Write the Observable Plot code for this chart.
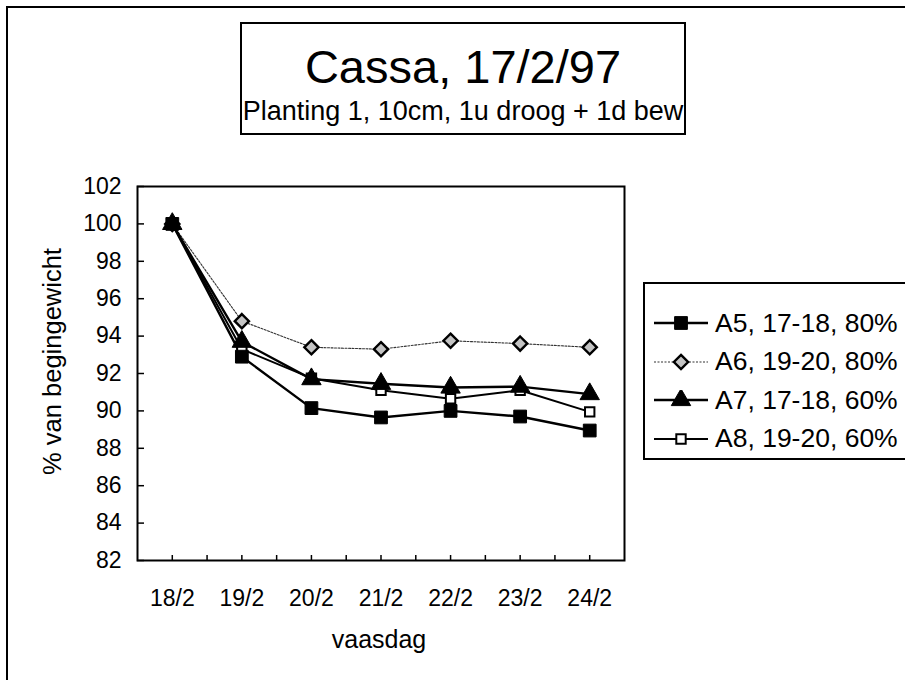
<!DOCTYPE html>
<html>
<head>
<meta charset="utf-8">
<script src="https://cdn.jsdelivr.net/npm/d3@7"></script>
<script src="https://cdn.jsdelivr.net/npm/@observablehq/plot@0.6"></script>
<style>
  html, body { margin: 0; padding: 0; background: #fff; }
  #wrap { position: relative; width: 905px; height: 680px; overflow: hidden; font-family: "Liberation Sans", Arial, sans-serif; color: #000; }
  #chart { position: absolute; left: 0; top: 0; }
  .frameL { position: absolute; left: 6px; top: 6px; width: 2px; height: 680px; background: #000; }
  .frameT { position: absolute; left: 6px; top: 6px; width: 905px; height: 2px; background: #000; }
  #titlebox { position: absolute; left: 240px; top: 22px; width: 442px; height: 109px; border: 2px solid #000; background: #fff; }
  #title { position: absolute; left: 0; width: 100%; top: 13px; text-align: center; font-size: 47px; line-height: 60px; }
  #subtitle { position: absolute; left: 0; width: 100%; top: 71px; text-align: center; font-size: 27px; line-height: 32px; white-space: nowrap; }
  #legend { position: absolute; left: 643px; top: 282px; width: 300px; height: 174px; border: 2px solid #000; background: #fff; }
  .row { position: absolute; left: 8px; height: 30px; display: flex; align-items: center; white-space: nowrap; font-size: 26.5px; }
  .row svg { margin-right: 6px; }
</style>
</head>
<body>
<div id="wrap">
  <div id="chart"></div>
  <div class="frameL"></div>
  <div class="frameT"></div>
  <div id="titlebox">
    <div id="title"></div>
    <div id="subtitle"></div>
  </div>
  <div id="legend"></div>
</div>
<script>
const titleText = "Cassa, 17/2/97";
const subtitleText = "Planting 1, 10cm, 1u droog + 1d bew";
const xLabel = "vaasdag";
const yLabel = "% van begingewicht";
const days = ["18/2", "19/2", "20/2", "21/2", "22/2", "23/2", "24/2"];
const yTicks = [82, 84, 86, 88, 90, 92, 94, 96, 98, 100, 102];
const seriesNames = ["A5, 17-18, 80%", "A6, 19-20, 80%", "A7, 17-18, 60%", "A8, 19-20, 60%"];
const a5 = [100, 92.9, 90.15, 89.65, 90.0, 89.7, 88.95];
const a6 = [100, 94.8, 93.4, 93.3, 93.75, 93.6, 93.4];
const a7 = [100, 93.7, 91.7, 91.45, 91.25, 91.3, 90.9];
const a8 = [100, 93.3, 91.75, 91.1, 90.65, 91.1, 89.95];

const seriesValues = [a5, a6, a7, a8];
const styles = [
  {symbol: "square", r: 7.2, fill: "#000", stroke: "#000", sw: 1, lineStroke: "#000", lineWidth: 2.4, dash: null},
  {symbol: "diamond2", r: 6.4, fill: "#c4c4c4", stroke: "#000", sw: 2.4, lineStroke: "#333", lineWidth: 1.1, dash: "2,1.5"},
  {symbol: "triangle", r: 7.2, fill: "#000", stroke: "#000", sw: 1, lineStroke: "#000", lineWidth: 2.4, dash: null},
  {symbol: "square", r: 5.3, fill: "#fff", stroke: "#000", sw: 2, lineStroke: "#000", lineWidth: 2, dash: null}
];

const rows = [];
seriesNames.forEach((s, k) => seriesValues[k].forEach((v, i) => rows.push({series: s, k, i, v})));

const halfTicks = d3.range(-0.5, 6.6, 0.5).slice(1, -1);

const drawOrder = [1, 3, 0, 2];
const lineMarks = drawOrder.map(k => Plot.line(rows.filter(d => d.k === k), {
  x: "i", y: "v", stroke: styles[k].lineStroke, strokeWidth: styles[k].lineWidth,
  strokeDasharray: styles[k].dash
}));
const dotMarks = drawOrder.map(k => Plot.dot(rows.filter(d => d.k === k), {
  x: "i", y: "v", symbol: () => styles[k].symbol, r: styles[k].r,
  fill: styles[k].fill, stroke: styles[k].stroke, strokeWidth: styles[k].sw
}));

const chart = Plot.plot({
  width: 905, height: 680,
  marginLeft: 137, marginRight: 281, marginTop: 186, marginBottom: 120,
  style: {fontFamily: "'Liberation Sans', Arial, sans-serif", fontSize: "23px", color: "#000", background: "transparent"},
  x: {type: "linear", domain: [-0.5, 6.5]},
  y: {domain: [82, 102]},
  symbol: {type: "identity"},
  marks: [
    Plot.ruleX(halfTicks, {x: d => d, insetTop: 369, stroke: "#000", strokeWidth: 1.5}),
    Plot.ruleY(yTicks, {y: d => d, insetRight: 480, stroke: "#000", strokeWidth: 1.5}),
    Plot.axisX({ticks: d3.range(days.length), tickFormat: i => days[i], tickSize: 0, tickPadding: 29, fontSize: 23, label: null}),
    Plot.axisY({ticks: yTicks, tickSize: 0, tickPadding: 16, fontSize: 23, label: null}),
    Plot.text([yLabel], {text: d => d, frameAnchor: "left", textAnchor: "middle", dx: -85, dy: -12, rotate: -90, fontSize: 25.5}),
    Plot.text([xLabel], {text: d => d, frameAnchor: "bottom", dx: -2, dy: 87, fontSize: 25}),
    ...lineMarks,
    ...dotMarks,
    Plot.frame({stroke: "#000", strokeWidth: 2})
  ]
});
document.getElementById("chart").appendChild(chart);
document.getElementById("title").textContent = titleText;
document.getElementById("subtitle").textContent = subtitleText;

// Legend
const legend = document.getElementById("legend");
const symPath = (st) => d3.symbol(st.symbol === "square" ? d3.symbolSquare : st.symbol === "triangle" ? d3.symbolTriangle : d3.symbolDiamond2, Math.PI * st.r * st.r)();
seriesNames.forEach((name, k) => {
  const st = styles[k];
  const row = document.createElement("div");
  row.className = "row";
  row.style.top = (24 + k * 38.5) + "px";
  row.innerHTML = `<svg width="56" height="20"><line x1="1" x2="55" y1="10" y2="10" stroke="${st.lineStroke}" stroke-width="${st.lineWidth}" ${st.dash ? `stroke-dasharray="${st.dash}"` : ""}></line><path transform="translate(28,10)" d="${symPath(st)}" fill="${st.fill}" stroke="${st.stroke}" stroke-width="${st.sw}"></path></svg><span>${name}</span>`;
  legend.appendChild(row);
});
</script>
</body>
</html>
